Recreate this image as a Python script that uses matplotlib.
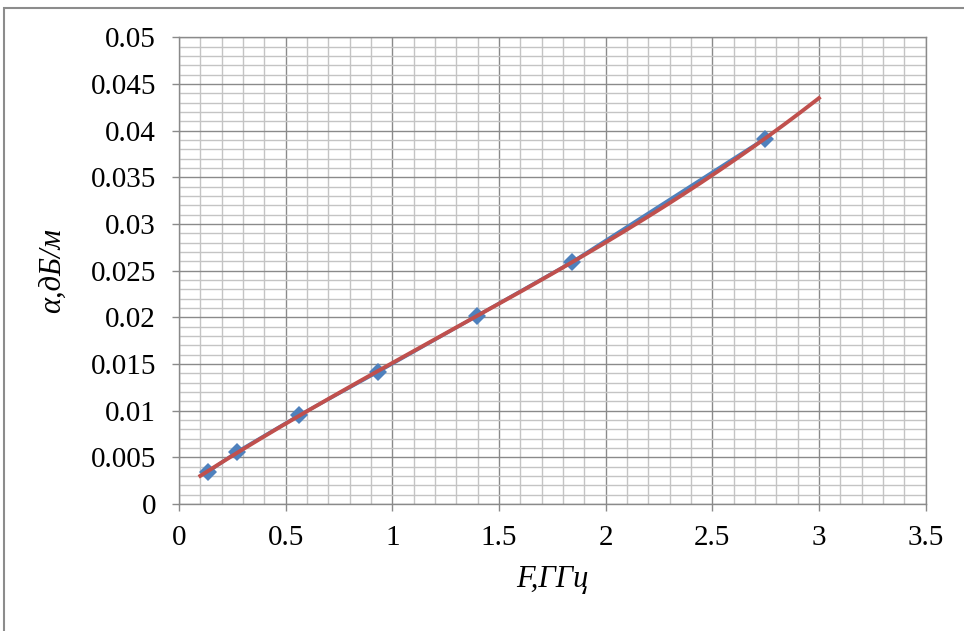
import numpy as np
import matplotlib
matplotlib.use("Agg")
import matplotlib.pyplot as plt
from matplotlib.patches import Rectangle
from matplotlib.ticker import MultipleLocator, FuncFormatter

# Measured attenuation vs frequency
freq_ghz = [0.137, 0.273, 0.563, 0.934, 1.395, 1.844, 2.747]
atten_db_m = [0.00346, 0.0056, 0.0095, 0.01417, 0.02013, 0.02594, 0.03915]

# Trendline span and polynomial order
trend_x_start = 0.1
trend_x_end = 3.0
trend_degree = 3

x_label = "F,ГГц"
y_label = "α,дБ/м"

plt.rcParams["font.family"] = ["Liberation Serif", "DejaVu Serif"]

fig = plt.figure(figsize=(9.64, 6.31), dpi=100)
fig.patch.set_facecolor("white")

# outer chart frame
fig.patches.append(Rectangle((4 / 964, -0.1), 1.2, 1 - 8 / 631 + 0.1,
                             transform=fig.transFigure, fill=False,
                             edgecolor="#8c8c8c", linewidth=1.5))

ax = fig.add_axes([179 / 964, 1 - 504 / 631, (925.6 - 179) / 964, (504 - 37.3) / 631])

ax.set_xlim(0, 3.5)
ax.set_ylim(0, 0.05)
ax.xaxis.set_major_locator(MultipleLocator(0.5))
ax.xaxis.set_minor_locator(MultipleLocator(0.1))
ax.yaxis.set_major_locator(MultipleLocator(0.005))
ax.yaxis.set_minor_locator(MultipleLocator(0.001))

ax.grid(which="major", color="#8a8a8a", linewidth=1.0)
ax.grid(which="minor", color="#c4c4c4", linewidth=1.0)
ax.set_axisbelow(True)

for s in ax.spines.values():
    s.set_color("#8a8a8a")
    s.set_linewidth(1.0)

ax.tick_params(which="major", length=5, width=1.0, color="#8a8a8a",
               labelsize=21, direction="out")
ax.tick_params(axis="y", pad=11.5)
ax.tick_params(axis="x", pad=10)
ax.tick_params(which="minor", length=0)

fmt = FuncFormatter(lambda v, p: f"{v:g}")
ax.xaxis.set_major_formatter(fmt)
ax.yaxis.set_major_formatter(fmt)

# measured data
ax.plot(freq_ghz, atten_db_m, color="#4F81BD", linewidth=2.5,
        marker="D", markersize=9.5, markeredgewidth=0, zorder=3)

# polynomial trendline
coef = np.polyfit(freq_ghz, atten_db_m, trend_degree)
tx = np.linspace(trend_x_start, trend_x_end, 200)
ax.plot(tx, np.polyval(coef, tx), color="#C0504D", linewidth=2.8, zorder=4)

ax.set_xlabel(x_label, fontsize=22, fontstyle="italic", labelpad=10)
ax.set_ylabel(y_label, fontsize=22, fontstyle="italic", labelpad=17)

fig.savefig("out.png", dpi=100, facecolor="white")
